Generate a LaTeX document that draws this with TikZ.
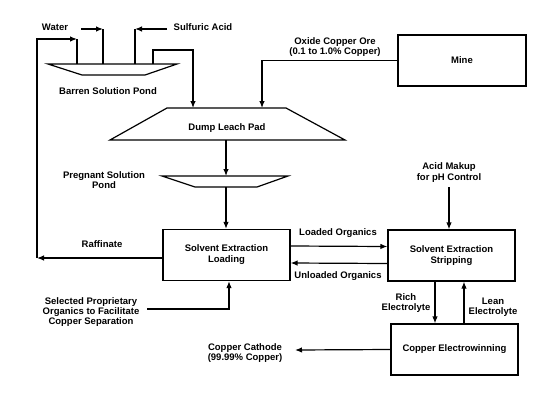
\documentclass[tikz,border=0pt]{standalone}
\usepackage{fontspec}
\setmainfont{Liberation Sans}
\usetikzlibrary{arrows.meta}
\begin{document}
\begin{tikzpicture}[x=1pt,y=-1pt,
  line width=1.2pt,
  arr/.style={-{Latex[length=7pt,width=5.5pt]}},
  box/.style={draw, minimum width=127pt, minimum height=51pt, inner sep=0pt, align=center,
     font=\fontsize{9.5}{11}\selectfont\bfseries},
  lbl/.style={font=\fontsize{9.5}{10.3}\selectfont\bfseries, align=center, inner sep=0pt}]
\useasboundingbox (0,0) rectangle (560,402);
% boxes
\node[box, minimum width=128pt] (mine) at (462,60.5) {Mine};
\node[box] (sxl) at (226.5,255) {Solvent Extraction\\Loading};
\node[box] (sxs) at (451.5,255.5) {Solvent Extraction\\Stripping};
\node[box] (cew) at (454.5,349.5) {Copper Electrowinning};
% ponds and pad
\draw (48,64) -- (177,64) -- (145,75) -- (82,75) -- cycle;
\draw (167,108) -- (286,108) -- (345,140) -- (110,140) -- cycle;
\draw (162,176) -- (288,176) -- (257,187) -- (195,187) -- cycle;
\coordinate (bp1) at (77,64);
\coordinate (bp2) at (103,64);
\coordinate (bp3) at (135,64);
\coordinate (bp4) at (153,64);
\coordinate (dp1) at (193,108);
\coordinate (dp2) at (262,108);
\coordinate (dpb) at (226,140);
\coordinate (ppt) at (226,176);
\coordinate (ppb) at (226,187);
% labels
\node[lbl] (water) at (55,27) {Water};
\node[lbl] (acid) at (203,27) {Sulfuric Acid};
\node[lbl] (barren) at (108,91) {Barren Solution Pond};
\node[lbl] (ore) at (335,47) {Oxide Copper Ore\\(0.1 to 1.0\% Copper)};
\node[lbl] (dlp) at (227,128) {Dump Leach Pad};
\node[lbl] (preg) at (104,180) {Pregnant Solution\\Pond};
\node[lbl] (raflbl) at (102,244) {Raffinate};
\node[lbl] (acidmk) at (449,172.5) {Acid Makup\\for pH Control};
\node[lbl] (loaded) at (338,233) {Loaded Organics};
\node[lbl] (unloaded) at (338,276) {Unloaded Organics};
\node[lbl] (sel) at (91,312) {Selected Proprietary\\Organics to Facilitate\\Copper Separation};
\node[lbl] (rich) at (406,303) {Rich\\Electrolyte};
\node[lbl] (lean) at (493,307) {Lean\\Electrolyte};
\node[lbl] (cath) at (245,353) {Copper Cathode\\(99.99\% Copper)};
% connectors
\coordinate (w0) at (81,29);
\coordinate (w1) at (103,29);
\draw[arr] (w0) -- (w1);
\draw (w1) -- (bp2);
\coordinate (a0) at (167,29);
\coordinate (a1) at (135,29);
\draw[arr] (a0) -- (a1);
\draw (a1) -- (bp3);
\coordinate (c1) at (193,50);
\draw[arr] (bp4) |- (c1) -- (dp1);
\draw[arr] (mine.west) -| (dp2);
\draw[arr] (dpb) -- (ppt);
\draw[arr] (ppb) -- (ppb|-sxl.north);
\coordinate (raf) at (37,258);
\coordinate (r2) at (77,39);
\draw[arr] (sxl.west|-raf) -- (raf);
\draw[arr] (raf) |- (r2);
\draw (r2) -- (bp1);
\draw[arr] ([yshift=9pt]sxl.east) -- ([yshift=9pt]sxs.west);
\draw[arr] ([yshift=-8pt]sxs.west) -- ([yshift=-8pt]sxl.east);
\coordinate (am) at (449,187);
\draw[arr] (am) -- (am|-sxs.north);
\coordinate (s0) at (147,309);
\draw[arr] (s0) -| ([xshift=2.5pt]sxl.south);
\draw[arr] ([xshift=-16.5pt]sxs.south) -- ([xshift=-16.5pt]sxs.south|-cew.north);
\draw[arr] ([xshift=9.5pt]cew.north) -- ([xshift=9.5pt]cew.north|-sxs.south);
\coordinate (cc) at (295,350);
\draw[arr] (cew.west) -- (cc);
\end{tikzpicture}
\end{document}
